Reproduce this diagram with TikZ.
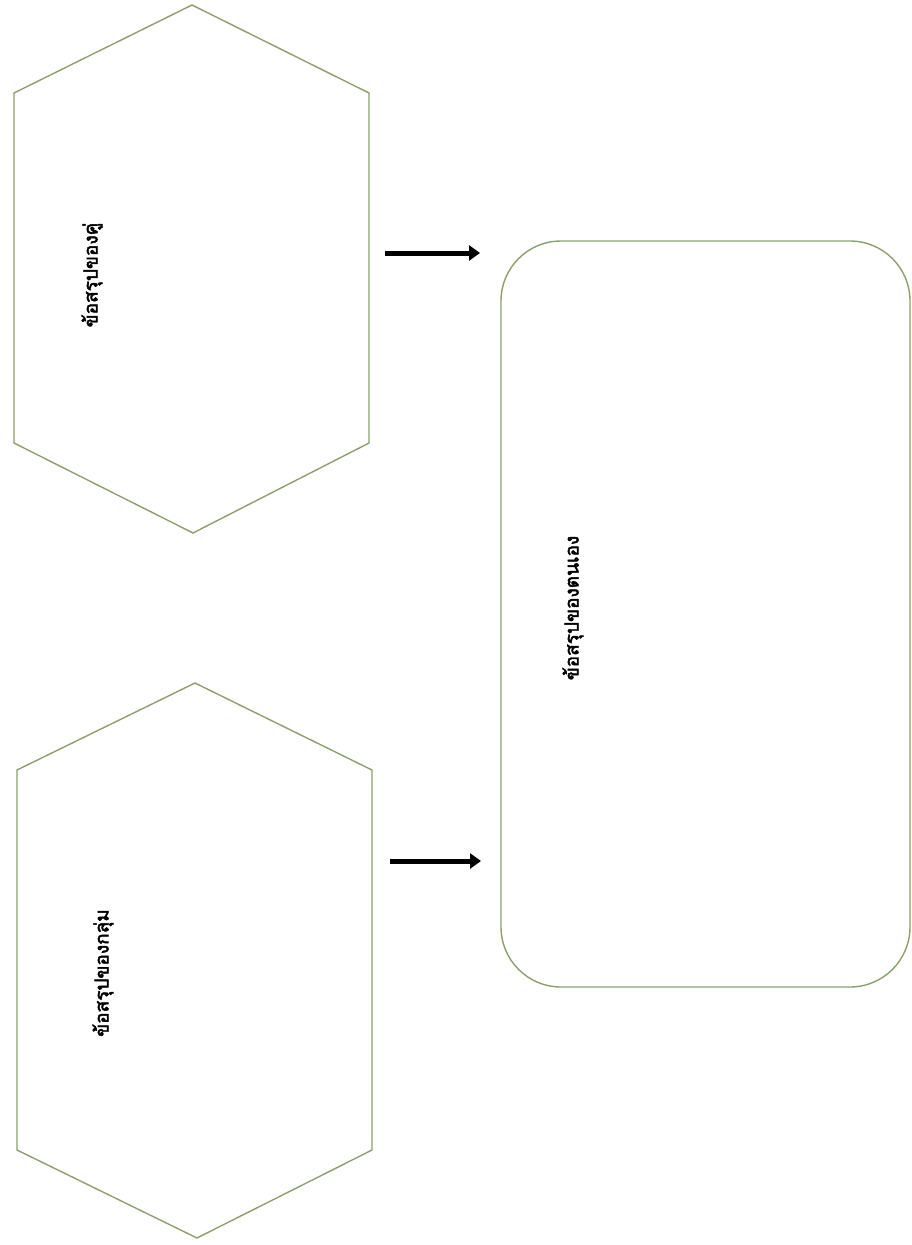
\documentclass[tikz,border=0pt]{standalone}
\usepackage{fontspec}
\newfontfamily\thaifont[Script=Thai,AutoFakeBold=2.5]{Loma}
\usetikzlibrary{arrows.meta}
\definecolor{edge}{RGB}{139,160,108}
\tikzset{
  shapeline/.style={draw=edge, line width=1.4pt, line join=miter},
  label/.style={font=\thaifont\bfseries\fontsize{19}{22}\selectfont, rotate=90, inner sep=0pt},
  bigarrow/.style={line width=5pt, -{Triangle[length=11pt,width=15pt]}}
}
\begin{document}
\begin{tikzpicture}[x=1pt,y=-1pt]
\useasboundingbox (0,0) rectangle (911,1245);
% hexagon 1
\draw[shapeline] (192,5) -- (369,93) -- (369,443) -- (193,533) -- (14,443) -- (14,93) -- cycle;
% hexagon 2
\draw[shapeline] (195,683) -- (372,770) -- (372,1150) -- (197,1238) -- (17,1150) -- (17,770) -- cycle;
% rounded rectangle
\node[shapeline, rounded corners=60pt, minimum width=409pt, minimum height=746pt, inner sep=0pt] (rect) at (705.5,614) {};
\node[label] (t1) at (92,275) {ข้อสรุปของคู่};
\node[label] (t2) at (103,973) {ข้อสรุปของกลุ่ม};
\node[label] (t3) at (573,608) {ข้อสรุปของตนเอง};
\coordinate (a1s) at (385,253);
\coordinate (a1e) at (480,253);
\coordinate (a2s) at (390,861);
\coordinate (a2e) at (481,861);
\draw[bigarrow] (a1s) -- (a1e);
\draw[bigarrow] (a2s) -- (a2e);
\end{tikzpicture}
\end{document}
